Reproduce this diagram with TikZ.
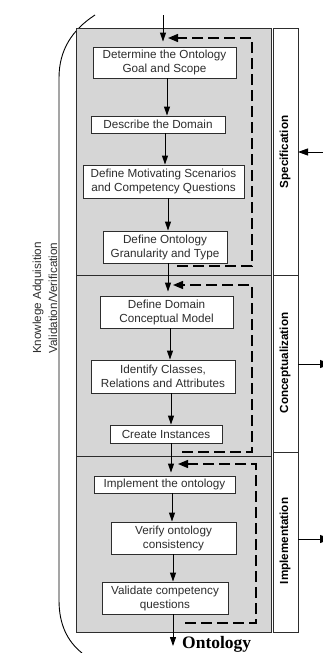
\documentclass[tikz,border=0pt]{standalone}
\usepackage{fontspec}
\setmainfont{Liberation Sans}
\newfontfamily\titleserif{Liberation Serif}
\usetikzlibrary{arrows.meta}
\definecolor{panelgray}{RGB}{214,214,214}
\definecolor{inkgray}{RGB}{45,45,45}
\begin{document}
\begin{tikzpicture}[x=1pt,y=-1pt,
  stepbox/.style={draw=inkgray, line width=0.9pt, fill=white, text=inkgray,
    align=center, inner sep=0pt, font=\fontsize{11.7}{14}\selectfont},
  flow/.style={draw=black, line width=0.9pt, -{Triangle[length=9pt,width=6pt]}},
  loopback/.style={draw=black, line width=1.3pt, dash pattern=on 11pt off 5pt,
    -{Triangle[length=10pt,width=8pt]}},
  panel/.style={draw=inkgray, line width=0.9pt, fill=panelgray},
  phase/.style={draw=inkgray, line width=0.9pt, fill=white},
  phaselabel/.style={rotate=90, text=black, font=\bfseries\fontsize{11.7}{14}\selectfont},
  sidelabel/.style={rotate=90, text=inkgray, align=center, font=\fontsize{11.7}{16}\selectfont}]
\useasboundingbox (0,0) rectangle (322,653);

% bracket enclosing the whole process
\draw[line width=0.9pt] (95,15) .. controls (72,30) and (59,50) .. (59,78)
  -- (59,600) .. controls (59,624) and (67,641) .. (82,653);
\node[sidelabel] (ka) at (45,298) {Knowlege Adquisition\\Validation/Verification};

% phase panels
\path[panel] (76,28) rectangle (271,275);
\path[panel] (76,275) rectangle (271,456);
\path[panel] (76,456) rectangle (271,632);
\path[phase] (273,28) rectangle (298,275);
\path[phase] (273,275) rectangle (298,452);
\path[phase] (273,452) rectangle (298,632);
\node[phaselabel] (spec) at (285,152) {Specification};
\node[phaselabel] (conc) at (285,363) {Conceptualization};
\node[phaselabel] (impl) at (285,541) {Implementation};

% steps
\node[stepbox, minimum width=143pt, minimum height=31pt] (b1) at (164.5,62.5) {Determine the Ontology\\Goal and Scope};
\node[stepbox, minimum width=134pt, minimum height=17pt] (b2) at (158,124.5) {Describe the Domain};
\node[stepbox, minimum width=161pt, minimum height=33pt] (b3) at (163.5,181.5) {Define Motivating Scenarios\\and Competency Questions};
\node[stepbox, minimum width=124pt, minimum height=32pt] (b4) at (165,247) {Define Ontology\\Granularity and Type};
\node[stepbox, minimum width=133pt, minimum height=32pt] (b5) at (166.5,312) {Define Domain\\Conceptual Model};
\node[stepbox, minimum width=144pt, minimum height=33pt] (b6) at (163,376.5) {Identify Classes,\\Relations and Attributes};
\node[stepbox, minimum width=112pt, minimum height=18pt] (b7) at (166,434) {Create Instances};
\node[stepbox, minimum width=141pt, minimum height=17pt] (b8) at (164.5,484.5) {Implement the ontology};
\node[stepbox, minimum width=125pt, minimum height=32pt] (b9) at (173.5,538) {Verify ontology\\consistency};
\node[stepbox, minimum width=126pt, minimum height=32pt] (b10) at (165,598) {Validate competency\\questions};

\node[anchor=base west, inner sep=0pt, font=\titleserif\bfseries\fontsize{17.5}{20}\selectfont] (onto) at (182,648) {Ontology};

% main flow
\coordinate (in) at (163,15);
\coordinate (out) at (173,646);
\coordinate (x1) at (167,0);
\coordinate (x2) at (165,0);
\coordinate (x3) at (168,0);
\coordinate (x5) at (170,0);
\coordinate (x6) at (171,0);
\coordinate (x8) at (172,0);
\coordinate (x9) at (173,0);
\draw[flow, shorten >=5pt] (in) -- (b1.north -| in);
\draw[flow] (b1.south -| x1) -- (b2.north -| x1);
\draw[flow] (b2.south -| x2) -- (b3.north -| x2);
\draw[flow] (b3.south -| x3) -- (b4.north -| x3);
\draw[flow, shorten >=4pt] (b4.south -| x3) -- (b5.north -| x3);
\draw[flow] (b5.south -| x5) -- (b6.north -| x5);
\draw[flow] (b6.south -| x6) -- (b7.north -| x6);
\draw[flow, shorten >=3pt] (b7.south -| x6) -- (b8.north -| x6);
\draw[flow] (b8.south -| x8) -- (b9.north -| x8);
\draw[flow] (b9.south -| x9) -- (b10.north -| x9);
\draw[flow] (b10.south -| out) -- (out);

% iteration loops inside each phase
\coordinate (l1s) at (177,266);
\coordinate (l1e) at (168,38);
\draw[loopback] (l1s) -- (252,266) -- (252,38) -- (l1e);
\coordinate (l2s) at (182,452);
\coordinate (l2e) at (173,285);
\draw[loopback] (l2s) -- (252,452) -- (252,285) -- (l2e);
\coordinate (l3s) at (185,623);
\coordinate (l3e) at (178,464);
\draw[loopback] (l3s) -- (256,623) -- (256,464) -- (l3e);

% links to the phase column
\coordinate (specin) at (330,152);
\coordinate (specend) at (298,152);
\coordinate (concbeg) at (298,364);
\coordinate (concout) at (331,364);
\coordinate (implbeg) at (298,539);
\coordinate (implout) at (331,539);
\draw[flow, -{Triangle[length=10pt,width=7pt]}] (specin) -- (specend);
\draw[flow, -{Triangle[length=11pt,width=8pt]}] (concbeg) -- (concout);
\draw[flow, -{Triangle[length=11pt,width=8pt]}] (implbeg) -- (implout);
\end{tikzpicture}
\end{document}
